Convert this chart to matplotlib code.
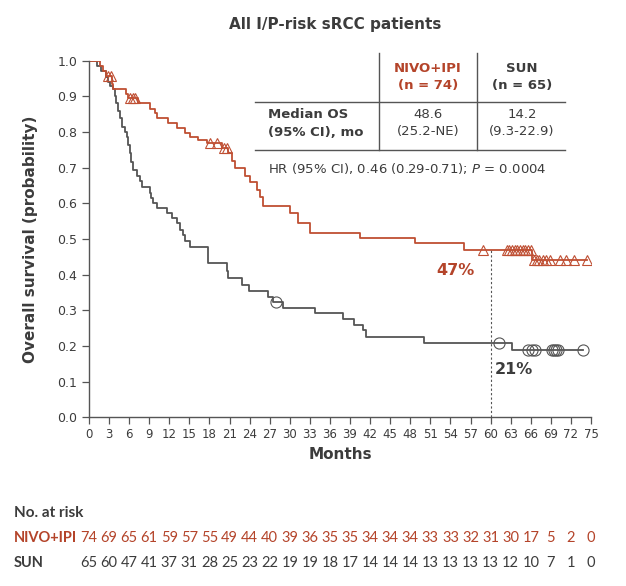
import numpy as np
import matplotlib
matplotlib.use("Agg")
import matplotlib.pyplot as plt
import matplotlib.transforms as mtransforms

plt.rcParams["font.family"] = ["DejaVu Sans"]

# Kaplan-Meier steps (months, survival after step)
nivo_t = [0, 1.6, 2.1, 2.5, 3.4, 3.6, 5.5, 5.9, 7.3, 9.1, 9.8, 10.1, 11.8, 13.1,
          14.3, 15.1, 16.3, 17.6, 19.8, 20.8, 21.4, 21.8, 23.3, 24.1, 25.1, 25.6,
          26.0, 30.0, 31.2, 33.0, 40.5, 48.7, 56.0, 66.2, 74.4]
nivo_s = [1.0, 0.986, 0.972, 0.957, 0.935, 0.922, 0.908, 0.895, 0.88, 0.865, 0.853,
          0.838, 0.825, 0.81, 0.797, 0.786, 0.777, 0.768, 0.755, 0.74, 0.72, 0.698,
          0.678, 0.66, 0.638, 0.618, 0.593, 0.572, 0.544, 0.516, 0.502, 0.488, 0.47,
          0.44, 0.44]
nivo_cens = [2.8, 3.3, 6.1, 6.6, 6.9, 18.1, 19.1, 20.1, 20.6, 58.9, 62.4, 62.8, 63.2,
             63.6, 64.0, 64.4, 64.8, 65.2, 65.6, 66.0, 66.5, 66.9, 67.3, 67.8, 68.3,
             68.8, 70.4, 71.2, 72.5, 74.4]

sun_t = [0, 1.2, 1.8, 2.5, 2.8, 3.2, 3.6, 3.9, 4.1, 4.3, 4.6, 5.0, 5.4, 5.7, 5.9,
         6.1, 6.3, 6.5, 7.2, 7.6, 7.9, 9.1, 9.3, 9.5, 10.2, 11.6, 12.4, 13.1, 13.6,
         14.0, 14.4, 15.1, 17.8, 20.6, 20.8, 22.8, 23.9, 26.8, 27.5, 29.0, 33.8,
         38.0, 39.6, 41.0, 41.4, 50.0, 63.2, 73.8]
sun_s = [1.0, 0.985, 0.97, 0.955, 0.94, 0.93, 0.92, 0.90, 0.88, 0.86, 0.84, 0.815,
         0.80, 0.785, 0.765, 0.74, 0.715, 0.693, 0.678, 0.662, 0.646, 0.63, 0.615,
         0.60, 0.587, 0.572, 0.558, 0.544, 0.525, 0.51, 0.495, 0.478, 0.432, 0.41,
         0.39, 0.37, 0.355, 0.338, 0.323, 0.307, 0.292, 0.275, 0.259, 0.245, 0.225,
         0.208, 0.19, 0.19]
sun_cens = [28.0, 61.3, 65.6, 66.2, 66.7, 69.2, 69.5, 69.7, 70.1, 73.8]

risk_months = list(range(0, 76, 3))
nivo_risk = [74, 69, 65, 61, 59, 57, 55, 49, 44, 40, 39, 36, 35, 35, 34, 34, 34, 33,
             33, 32, 31, 30, 17, 5, 2, 0]
sun_risk = [65, 60, 47, 41, 37, 31, 28, 25, 23, 22, 19, 19, 18, 17, 14, 14, 14, 13,
            13, 13, 13, 12, 10, 7, 1, 0]

RED = "#bf4f33"
RED_TXT = "#b4442a"
GRAY = "#555555"
TXT = "#3c3c3c"


def at(times, surv, x):
    idx = np.searchsorted(times, x, side="right") - 1
    return np.asarray(surv)[idx]


W, H = 626, 586
fig = plt.figure(figsize=(W / 100, H / 100), dpi=100)
ax = fig.add_axes([89 / W, 1 - 417.3 / H, (591 - 89) / W, (417.3 - 60.7) / H])


def px(x, y):
    return x / W, 1 - y / H


ax.step(sun_t, sun_s, where="post", color=GRAY, lw=1.3)
ax.step(nivo_t, nivo_s, where="post", color=RED, lw=1.3)
ax.plot(nivo_cens, at(nivo_t, nivo_s, nivo_cens), ls="none", marker="^", ms=6.5,
        mfc="none", mec=RED, mew=0.8)
ax.plot(sun_cens, at(sun_t, sun_s, sun_cens), ls="none", marker="o", ms=8,
        mfc="none", mec=GRAY, mew=0.8)

# 60-month landmark
ax.vlines(60, 0, at(nivo_t, nivo_s, 60), colors=GRAY, linestyles=(0, (2, 2)), lw=0.8)
ax.text(54.7, 0.413, "47%", color=RED_TXT, fontsize=11.5, fontweight="bold",
        ha="center", va="center")
ax.text(63.5, 0.133, "21%", color=TXT, fontsize=11.5, fontweight="bold",
        ha="center", va="center")

ax.set_xlim(0, 75)
ax.set_ylim(0, 1.0)
ax.set_xticks(risk_months)
ax.set_yticks(np.arange(0, 1.01, 0.1))
ax.set_yticklabels([f"{v:.1f}" for v in np.arange(0, 1.01, 0.1)])
ax.margins(0)
for s in ["top", "right"]:
    ax.spines[s].set_visible(False)
for s in ["left", "bottom"]:
    ax.spines[s].set_color(GRAY)
    ax.spines[s].set_linewidth(1.0)
ax.tick_params(colors=GRAY, labelcolor=TXT, length=5, width=0.9, labelsize=9)
ax.tick_params(axis="x", labelsize=8.5, pad=3)
ax.set_xlabel("Months", fontsize=11, fontweight="bold", color=TXT, labelpad=4)
ax.set_ylabel("Overall survival (probability)", fontsize=11, fontweight="bold",
              color=TXT, labelpad=14)

fig.text(*px(335, 25), "All I/P-risk sRCC patients", fontsize=11, fontweight="bold",
         color=TXT, ha="center", va="center")

# summary table
line_kw = dict(color=GRAY, lw=1.0, transform=fig.transFigure)
for yy in (102, 150):
    fig.add_artist(plt.Line2D([255 / W, 565 / W], [1 - yy / H] * 2, **line_kw))
for xx in (379, 477):
    fig.add_artist(plt.Line2D([xx / W] * 2, [1 - 53 / H, 1 - 150 / H], **line_kw))
tkw = dict(fontsize=9.5, ha="center", va="center")
fig.text(*px(428, 68), "NIVO+IPI", color=RED_TXT, fontweight="bold", **tkw)
fig.text(*px(428, 85), "(n = 74)", color=RED_TXT, fontweight="bold", **tkw)
fig.text(*px(522, 68), "SUN", color=TXT, fontweight="bold", **tkw)
fig.text(*px(522, 85), "(n = 65)", color=TXT, fontweight="bold", **tkw)
fig.text(*px(268, 115), "Median OS", color=TXT, fontweight="bold", fontsize=9.5,
         ha="left", va="center")
fig.text(*px(268, 132), "(95% CI), mo", color=TXT, fontweight="bold", fontsize=9.5,
         ha="left", va="center")
fig.text(*px(428, 115), "48.6", color=TXT, **tkw)
fig.text(*px(428, 132), "(25.2-NE)", color=TXT, **tkw)
fig.text(*px(522, 115), "14.2", color=TXT, **tkw)
fig.text(*px(522, 132), "(9.3-22.9)", color=TXT, **tkw)
fig.text(*px(268, 168), "HR (95% CI), 0.46 (0.29-0.71); $\\it{P}$ = 0.0004",
         color=TXT, fontsize=9.5, ha="left", va="center")

# number at risk
row_font = ["Lato", "DejaVu Sans"]
fig.text(*px(14, 513), "No. at risk", color=TXT, fontweight="bold", fontsize=11,
         ha="left", va="center", family=row_font)
fig.text(*px(14, 538), "NIVO+IPI", color=RED_TXT, fontweight="bold", fontsize=10.5,
         ha="left", va="center", family=row_font)
fig.text(*px(14, 563), "SUN", color=TXT, fontweight="bold", fontsize=10.5,
         ha="left", va="center", family=row_font)
blend = mtransforms.blended_transform_factory(ax.transData, fig.transFigure)
for m, n1, n2 in zip(risk_months, nivo_risk, sun_risk):
    ax.text(m, 1 - 538 / H, str(n1), color=RED_TXT, fontsize=10.5, ha="center",
            va="center", transform=blend, clip_on=False, family=row_font)
    ax.text(m, 1 - 563 / H, str(n2), color=TXT, fontsize=10.5, ha="center",
            va="center", transform=blend, clip_on=False, family=row_font)

fig.savefig("out.png", dpi=100)
